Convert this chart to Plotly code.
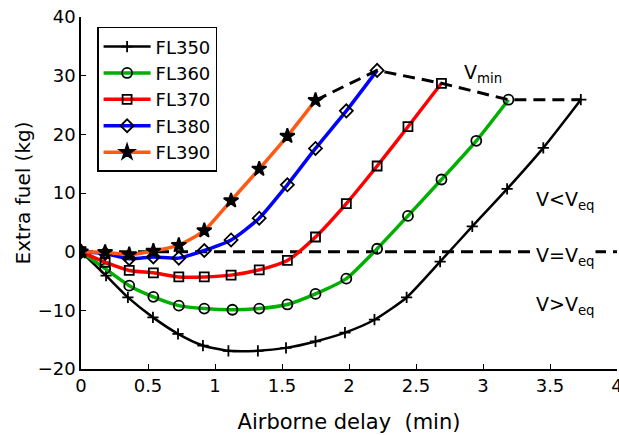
import plotly.graph_objects as go

x350 = [0, 0.187, 0.35, 0.537, 0.724, 0.91, 1.10, 1.32, 1.53, 1.75, 1.97, 2.19, 2.43, 2.68, 2.92, 3.18, 3.45, 3.73]
y350 = [0, -4.1, -7.8, -11.2, -14.0, -16.0, -16.9, -16.9, -16.4, -15.3, -13.8, -11.6, -7.8, -1.7, 4.3, 10.7, 17.7, 25.9]

x360 = [0, 0.18, 0.36, 0.54, 0.73, 0.92, 1.13, 1.33, 1.54, 1.75, 1.98, 2.21, 2.44, 2.69, 2.95, 3.19]
y360 = [0, -2.9, -5.8, -7.7, -9.2, -9.7, -9.9, -9.7, -9.0, -7.2, -4.6, 0.5, 6.1, 12.3, 18.9, 25.9]

x370 = [0, 0.18, 0.36, 0.54, 0.73, 0.92, 1.12, 1.33, 1.54, 1.75, 1.98, 2.21, 2.44, 2.69]
y370 = [0, -1.8, -3.2, -3.6, -4.3, -4.3, -4.0, -3.1, -1.5, 2.5, 8.2, 14.6, 21.3, 28.7]

x380 = [0, 0.18, 0.36, 0.54, 0.73, 0.92, 1.12, 1.33, 1.54, 1.75, 1.98, 2.21]
y380 = [0, -0.3, -1.2, -0.9, -1.1, 0.2, 2.0, 5.7, 11.4, 17.6, 24.0, 30.9]

x390 = [0, 0.18, 0.36, 0.54, 0.73, 0.92, 1.12, 1.33, 1.54, 1.75]
y390 = [0, -0.1, -0.5, 0.1, 1.1, 3.6, 8.7, 14.1, 19.7, 25.8]

vmin_x = [1.75, 2.21, 2.69, 3.19, 3.73]
vmin_y = [25.8, 30.9, 28.7, 25.9, 25.9]

veq_x = [0, 4]
veq_y = [0, 0]

series = [
    ("FL350", x350, y350, "black", "cross-thin", 8, 2.5),
    ("FL360", x360, y360, "#00b000", "circle-open", 10, 3.5),
    ("FL370", x370, y370, "#ff0000", "square-open", 9, 3.5),
    ("FL380", x380, y380, "#0000ff", "diamond-open", 10, 3.5),
    ("FL390", x390, y390, "#ff5a14", "star", 11, 3.5),
]

fig = go.Figure()

fig.add_trace(go.Scatter(x=veq_x, y=veq_y, mode="lines", showlegend=False,
                         line=dict(color="black", width=3, dash="12px,7px")))

for name, xs, ys, col, sym, ms, lw in series:
    fig.add_trace(go.Scatter(
        x=xs, y=ys, name=name, mode="lines+markers",
        line=dict(color=col, width=lw, shape="spline", smoothing=0.6),
        marker=dict(symbol=sym, size=ms, color="black",
                    line=dict(color="black", width=1.8)),
    ))

fig.add_trace(go.Scatter(x=vmin_x, y=vmin_y, mode="lines", showlegend=False,
                         line=dict(color="black", width=3, dash="12px,7px")))

font = "DejaVu Sans"
ann = [
    dict(x=3.0, y=30.3, text="V<sub>min</sub>"),
    dict(x=3.616, y=8.8, text="V&lt;V<sub>eq</sub>"),
    dict(x=3.616, y=-0.9, text="V=V<sub>eq</sub>", bgcolor="white"),
    dict(x=3.616, y=-9.2, text="V&gt;V<sub>eq</sub>"),
]
for a in ann:
    fig.add_annotation(x=a["x"], y=a["y"], text=a["text"], showarrow=False,
                       font=dict(family=font, size=19, color="black"),
                       bgcolor=a.get("bgcolor", "rgba(0,0,0,0)"), borderpad=0)

fig.update_layout(
    width=619, height=435,
    margin=dict(l=81, r=2, t=17, b=66, autoexpand=False),
    paper_bgcolor="white", plot_bgcolor="white",
    font=dict(family=font, size=18, color="black"),
    legend=dict(x=0.03, y=0.972, xanchor="left", yanchor="top",
                bordercolor="black", borderwidth=1.5, bgcolor="white",
                itemwidth=47,
                font=dict(family=font, size=18), tracegroupgap=0),
    xaxis=dict(range=[0, 4], tickvals=[0, 0.5, 1, 1.5, 2, 2.5, 3, 3.5, 4],
               ticktext=["0", "0.5", "1", "1.5", "2", "2.5", "3", "3.5", "4"],
               ticks="inside", ticklen=5, tickwidth=1.2, tickcolor="black",
               ticklabeloverflow="allow", automargin=False,
               showline=True, linecolor="black", linewidth=1.5,
               showgrid=False, zeroline=False,
               title=dict(text="Airborne delay&nbsp;&nbsp;(min)", font=dict(size=21), standoff=19)),
    yaxis=dict(range=[-20, 40], tickvals=[-20, -10, 0, 10, 20, 30, 40],
               ticks="inside", ticklen=5, tickwidth=1.2, tickcolor="black",
               automargin=False,
               showline=True, linecolor="black", linewidth=1.5,
               showgrid=False, zeroline=False,
               title=dict(text="Extra fuel (kg)", font=dict(size=20), standoff=2)),
)

fig.write_html("out.html")
